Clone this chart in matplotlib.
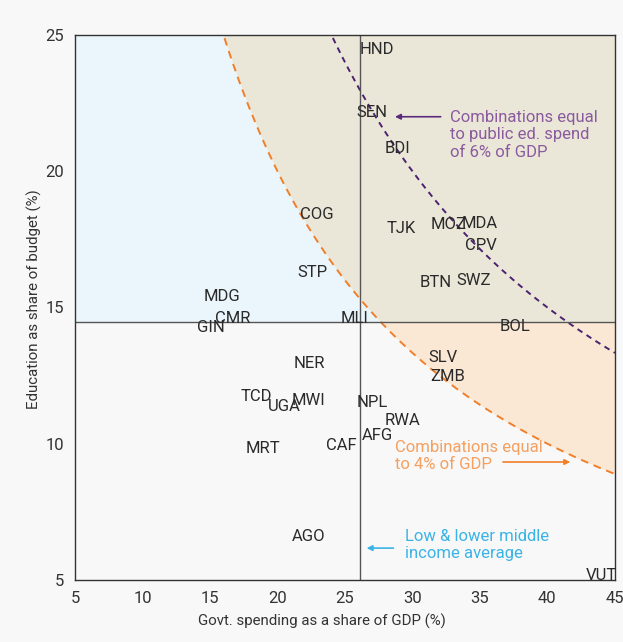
import matplotlib.pyplot as plt
import numpy as np

plt.rcParams['font.family'] = ['Roboto', 'DejaVu Sans']

countries = ["HND", "SEN", "BDI", "COG", "TJK", "MOZ", "MDA", "CPV", "STP", "BTN",
             "SWZ", "MDG", "CMR", "GIN", "MLI", "BOL", "NER", "SLV", "ZMB", "TCD",
             "UGA", "MWI", "NPL", "RWA", "AFG", "CAF", "MRT", "AGO", "VUT"]
gdp_share = [27.4, 27.0, 28.9, 22.9, 29.2, 32.7, 35.0, 35.1, 22.6, 31.7,
             34.5, 15.9, 16.7, 15.1, 25.7, 37.6, 22.4, 32.3, 32.6, 18.4,
             20.5, 22.3, 27.0, 29.3, 27.4, 24.7, 18.9, 22.3, 44.0]
edu_share = [24.45, 22.17, 20.85, 18.43, 17.9, 18.06, 18.1, 17.26, 16.3, 15.9,
             16.0, 15.42, 14.6, 14.25, 14.58, 14.3, 12.96, 13.18, 12.45, 11.75,
             11.35, 11.6, 11.5, 10.87, 10.32, 9.92, 9.84, 6.58, 5.18]

avg_gdp = 26.1
avg_edu = 14.45
target_low = 4
target_high = 6

fig = plt.figure(figsize=(6.23, 6.42), dpi=100, facecolor="#f8f8f8")
ax = fig.add_axes([0.1204, 0.0966, 0.8666, 0.8489])
ax.set_facecolor("#f8f8f8")

x = np.linspace(5, 45, 400)
low = target_low * 100 / x
high = target_high * 100 / x

# shaded zones
ax.fill_between(x, avg_edu, np.clip(low, avg_edu, 25), color="#ebf6fc", lw=0)
ax.fill_between(x, np.clip(low, avg_edu, 25), 25, color="#ebe7d8", lw=0)
ax.fill_between(x, np.clip(low, 5, avg_edu), avg_edu, color="#fbe8d4", lw=0)

ax.plot(x, low, color="#f07f2a", lw=1.4, ls=(0, (4, 3)))
ax.plot(x, high, color="#4b2170", lw=1.4, ls=(0, (3, 2.5)))
ax.axvline(avg_gdp, color="#555555", lw=1)
ax.axhline(avg_edu, color="#555555", lw=1)

for c, gx, ey in zip(countries, gdp_share, edu_share):
    ax.text(gx, ey, c, ha="center", va="center", fontsize=12, color="#2a2a2a")

ax.annotate("", xy=(28.5, 22.0), xytext=(32.3, 22.0),
            arrowprops=dict(arrowstyle="-|>", color="#5b2a7a", lw=1.2, mutation_scale=8))
ax.text(32.78, 21.33, "Combinations equal\nto public ed. spend\nof 6% of GDP",
        color="#8a5a9f", fontsize=12, va="center", ha="left", linespacing=1.2)

ax.annotate("", xy=(41.9, 9.33), xytext=(36.5, 9.33),
            arrowprops=dict(arrowstyle="-|>", color="#f07f2a", lw=1.2, mutation_scale=8))
ax.text(28.7, 9.55, "Combinations equal\nto 4% of GDP",
        color="#f4a060", fontsize=12, va="center", ha="left", linespacing=1.2)

ax.annotate("", xy=(26.4, 6.17), xytext=(28.8, 6.17),
            arrowprops=dict(arrowstyle="-|>", color="#3ab4e6", lw=1.2, mutation_scale=8))
ax.text(29.44, 6.28, "Low & lower middle\nincome average",
        color="#3ab4e6", fontsize=12, va="center", ha="left", linespacing=1.2)

ax.set_xlim(5, 45)
ax.set_ylim(5, 25)
ax.set_xticks(range(5, 46, 5))
ax.set_yticks(range(5, 26, 5))
ax.tick_params(length=0, labelsize=12, labelcolor="#333333", pad=8)
for s in ax.spines.values():
    s.set_color("#333333")
    s.set_linewidth(1)
ax.set_xlabel("Govt. spending as a share of GDP (%)", fontsize=10.8, color="#333333")
ax.set_ylabel("Education as share of budget (%)", fontsize=10.8, color="#333333")
ax.xaxis.set_label_coords(0.458, -0.062)
ax.yaxis.set_label_coords(-0.062, 0.516)

fig.savefig("out.png", dpi=100, facecolor=fig.get_facecolor())
